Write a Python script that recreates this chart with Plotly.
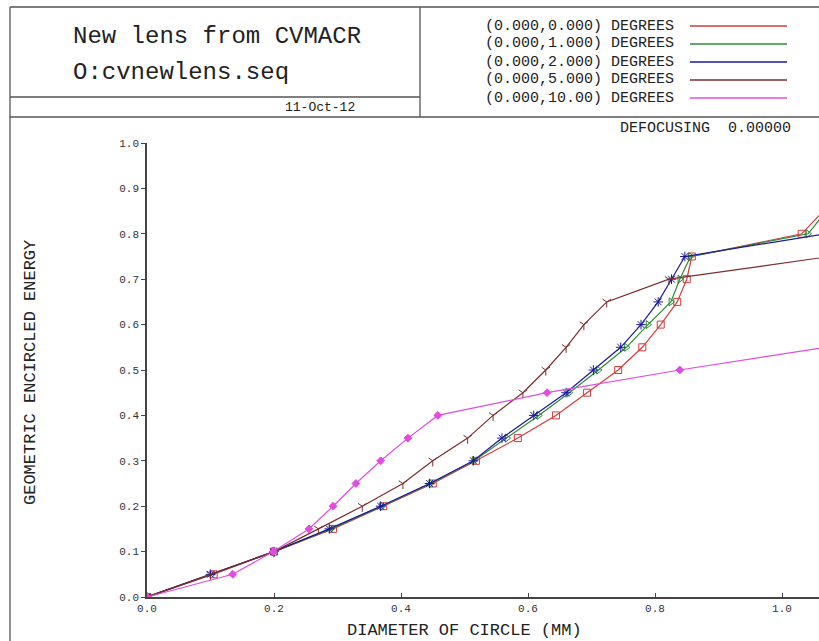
import plotly.graph_objects as go

# ---------------- data ----------------
energy_levels = [0.0, 0.05, 0.10, 0.15, 0.20, 0.25, 0.30, 0.35, 0.40, 0.45,
                 0.50, 0.55, 0.60, 0.65, 0.70, 0.75, 0.80, 0.85]

diam_0deg = [0.0, 0.105, 0.200, 0.293, 0.372, 0.450, 0.518, 0.584, 0.644, 0.693,
             0.742, 0.780, 0.809, 0.835, 0.850, 0.858, 1.031, 1.065]
diam_1deg = [0.0, 0.102, 0.200, 0.290, 0.370, 0.447, 0.515, 0.567, 0.617, 0.665,
             0.711, 0.755, 0.789, 0.825, 0.839, 0.856, 1.041, 1.070]
diam_2deg = [0.0, 0.100, 0.200, 0.287, 0.368, 0.445, 0.514, 0.559, 0.609, 0.660,
             0.703, 0.746, 0.778, 0.805, 0.826, 0.847, 1.068]
diam_5deg = [0.0, 0.100, 0.200, 0.270, 0.339, 0.403, 0.450, 0.505, 0.545, 0.592,
             0.628, 0.660, 0.688, 0.724, 0.822, 1.075]
diam_10deg = [0.0, 0.135, 0.199, 0.255, 0.293, 0.329, 0.368, 0.411, 0.458, 0.630,
              0.839, 1.069]

series_names = ["(0.000,0.000) DEGREES", "(0.000,1.000) DEGREES", "(0.000,2.000) DEGREES",
                "(0.000,5.000) DEGREES", "(0.000,10.00) DEGREES"]
series_x = [diam_0deg, diam_1deg, diam_2deg, diam_5deg, diam_10deg]
series_colors = ["#d23c3c", "#2f8a3a", "#1a1a9a", "#7a2e2e", "#e04ce0"]
series_symbols = ["square-open", "triangle-right-open", "asterisk-open", "y-down-open", "diamond"]
series_msize = [7, 7, 8, 7, 6]

x_ticks = [0.0, 0.2, 0.4, 0.6, 0.8, 1.0]
x_ticktext = ["0.0", "0.2", "0.4", "0.6", "0.8", "1.0"]
y_ticks = [0.0, 0.1, 0.2, 0.3, 0.4, 0.5, 0.6, 0.7, 0.8, 0.9, 1.0]
y_ticktext = ["0.0", "0.1", "0.2", "0.3", "0.4", "0.5", "0.6", "0.7", "0.8", "0.9", "1.0"]

title_line1 = "New lens from CVMACR"
title_line2 = "O:cvnewlens.seq"
date_text = "11-Oct-12"
defocus_text = "DEFOCUSING  0.00000"
x_title = "DIAMETER OF CIRCLE (MM)"
y_title = "GEOMETRIC ENCIRCLED ENERGY"

# ---------------- layout geometry ----------------
W, H = 819, 641
L, R, T, B = 147, 0, 143, 44
PW = W - L - R
PH = H - T - B
MONO = "Liberation Mono, Courier New, monospace"


def px(x):
    return (x - L) / PW


def py(y):
    return (H - B - y) / PH


fig = go.Figure()
for name, xs, col, sym, ms in zip(series_names, series_x, series_colors, series_symbols, series_msize):
    fig.add_trace(go.Scatter(
        x=xs, y=energy_levels[:len(xs)], mode="lines+markers", name=name,
        line=dict(color=col, width=1.2),
        marker=dict(symbol=sym, size=ms, color=col, line=dict(color=col, width=1)),
        showlegend=False,
    ))

shapes = []
frame_col = "#555555"


def line(x0, y0, x1, y1, color=frame_col, width=1.3):
    shapes.append(dict(type="line", xref="paper", yref="paper",
                       x0=px(x0), y0=py(y0), x1=px(x1), y1=py(y1),
                       line=dict(color=color, width=width)))


# header frame
line(10, 7, W + 5, 7)
line(10, 7, 10, H + 5)
line(420, 7, 420, 117)
line(10, 97, 420, 97)
line(10, 117, W + 5, 117)

annotations = []


def text(x, y, s, size, anchor="left", color="#222222", angle=0):
    annotations.append(dict(xref="paper", yref="paper", x=px(x), y=py(y), text=s,
                            showarrow=False, xanchor=anchor, yanchor="middle",
                            textangle=angle,
                            font=dict(family=MONO, size=size, color=color)))


text(71, 36, title_line1, 24)
text(71, 73, title_line2, 24)
text(320, 107, date_text, 13, anchor="center")

for i, (name, col) in enumerate(zip(series_names, series_colors)):
    yy = 26 + 18 * i
    text(483, yy, name, 15)
    line(690, yy, 787, yy, color=col, width=1.3)

text(793, 128, defocus_text, 15, anchor="right")
text(464, 630, x_title, 17, anchor="center")
text(30, 373, y_title, 17, anchor="center", angle=-90)

fig.update_layout(
    width=W, height=H,
    margin=dict(l=L, r=R, t=T, b=B, pad=0),
    paper_bgcolor="white", plot_bgcolor="white",
    shapes=shapes, annotations=annotations,
    xaxis=dict(range=[0, 672 / 635], tickvals=x_ticks, ticktext=x_ticktext,
               showgrid=False, zeroline=False, showline=True, linecolor="#444444",
               linewidth=1.5, ticks="inside", ticklen=4, tickcolor="#444444",
               tickfont=dict(family=MONO, size=11, color="#333333")),
    yaxis=dict(range=[0, 1], tickvals=y_ticks, ticktext=y_ticktext,
               showgrid=False, zeroline=False, showline=True, linecolor="#444444",
               linewidth=1.5, ticks="outside", ticklen=4, tickcolor="#444444",
               tickfont=dict(family=MONO, size=11, color="#333333")),
)

fig.write_html("out.html")
